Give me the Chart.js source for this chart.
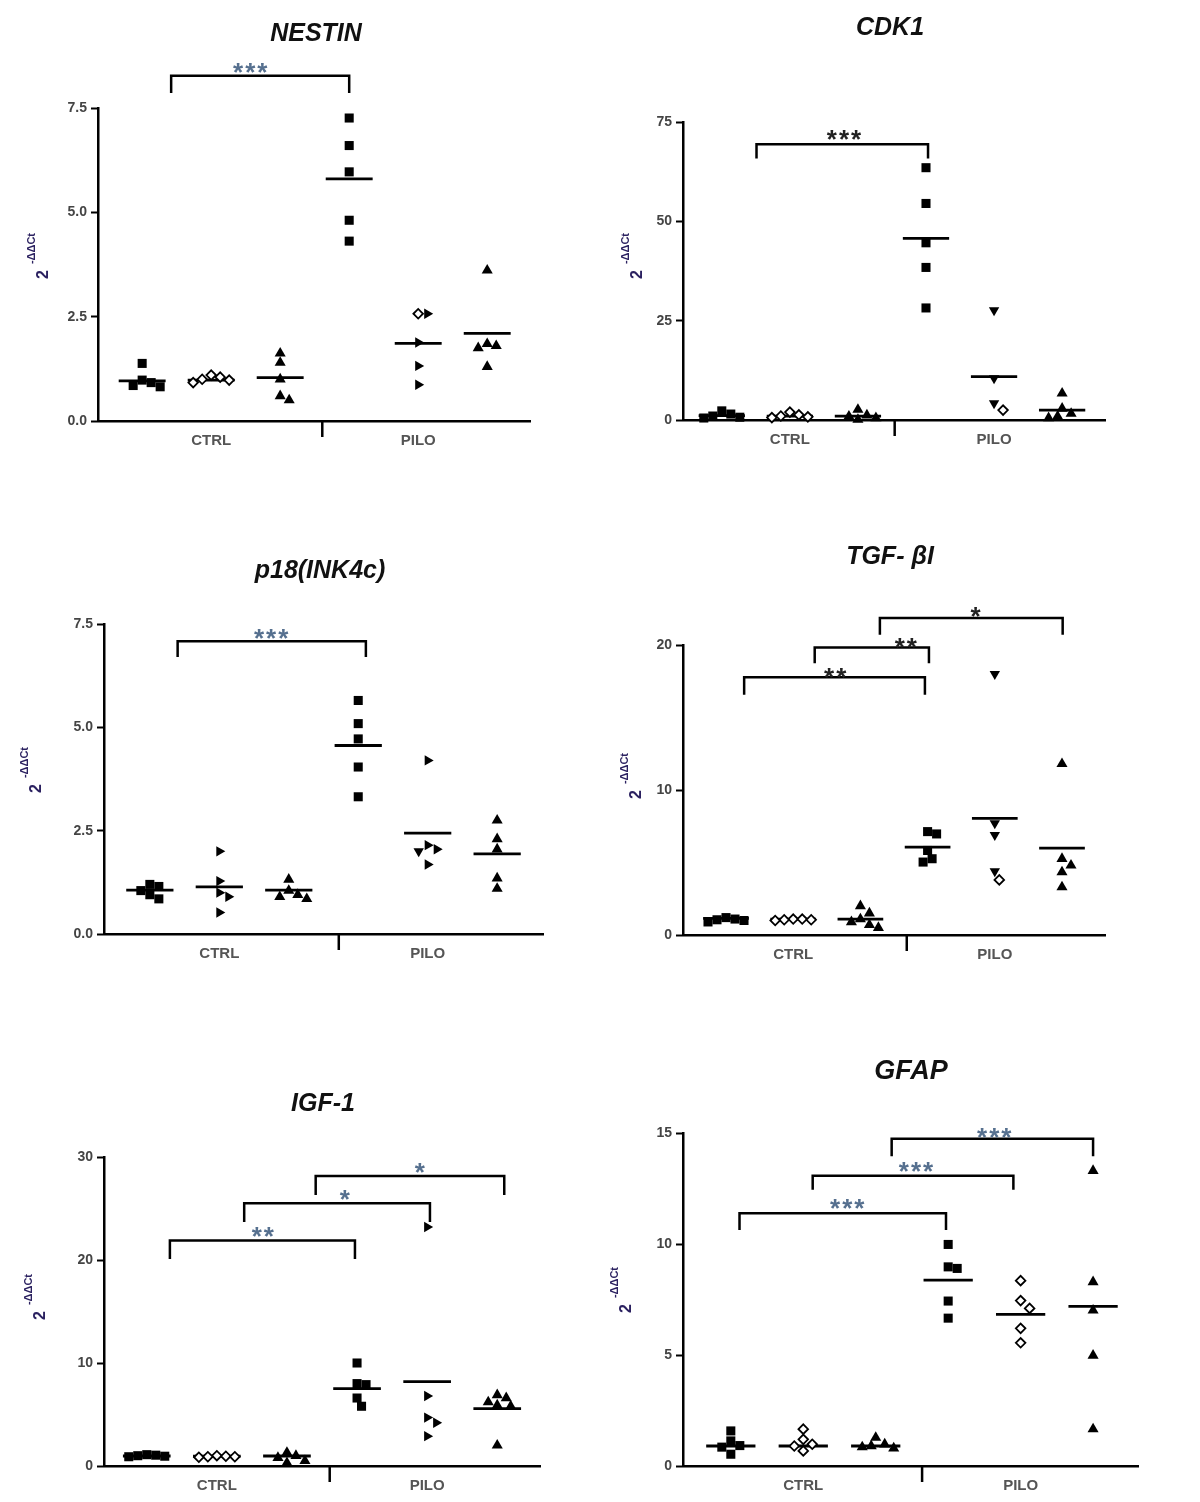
<!DOCTYPE html>
<html><head><meta charset="utf-8">
<script src="https://cdn.jsdelivr.net/npm/chart.js@4.4.1/dist/chart.umd.min.js"></script>
<style>
html,body{margin:0;padding:0;background:#fff;width:1200px;height:1502px;overflow:hidden;position:relative;}
canvas{position:absolute;}
</style></head><body>
<script>
// ---------- DATA ----------
const categories = ['CTRL', 'PILO'];
const columns = [1, 2, 3, 4, 5, 6];          // 3 CTRL columns, 3 PILO columns

const nestinTicks = [0, 2.5, 5, 7.5];
const nestinValues = [[1.38,0.98,0.92,0.85,0.82],[1.1,1.05,1.0,0.98,0.92],[1.62,1.4,1.0,0.6,0.5],[7.26,6.6,5.97,4.81,4.31],[2.57,2.57,1.88,1.32,0.87],[3.61,1.85,1.8,1.75,1.3]];
const nestinMeans = [0.96,0.98,1.04,5.8,1.86,2.1];
const nestinStars = ['***'];

const cdk1Ticks = [0, 25, 50, 75];
const cdk1Values = [[2.3,1.5,1.0,0.7,0.5],[2.0,1.3,1.0,0.8,0.6],[2.6,1.2,0.9,0.5,0.1],[63.5,54.5,44.6,38.4,28.2],[27.6,10.5,4.2,2.5],[6.7,2.9,1.6,0.9,0.5]];
const cdk1Means = [1.1,1.0,1.0,45.7,10.9,2.5];
const cdk1Stars = ['***'];

const p18Ticks = [0, 2.5, 5, 7.5];
const p18Values = [[1.2,1.15,1.05,0.95,0.85],[2.0,1.28,1.0,0.9,0.52],[1.32,1.05,0.95,0.9,0.85],[5.65,5.09,4.72,4.04,3.32],[4.2,2.15,2.05,2.0,1.68],[2.75,2.3,2.05,1.35,1.1]];
const p18Means = [1.06,1.14,1.06,4.56,2.44,1.94];
const p18Stars = ['***'];

const tgfTicks = [0, 10, 20];
const tgfValues = [[1.2,1.1,1.05,1.0,0.9],[1.1,1.1,1.05,1.05,1.0],[2.0,1.5,1.1,0.9,0.7,0.5],[7.13,6.97,5.83,5.26,5.03],[18.0,7.7,6.9,4.4,3.8],[11.8,5.26,4.8,4.34,3.3]];
const tgfMeans = [1.14,1.1,1.1,6.06,8.05,5.99];
const tgfStars = ['**','**','*'];

const igfTicks = [0, 10, 20, 30];
const igfValues = [[1.1,1.05,1.0,0.95,0.9],[1.0,0.95,0.9,0.9,0.85],[1.3,1.0,0.8,0.5,0.3],[10.0,8.0,7.9,6.6,5.8],[23.2,6.8,4.7,4.2,2.9],[6.9,6.6,6.2,5.9,5.8,2.0]];
const igfMeans = [0.97,0.95,0.97,7.52,8.2,5.58];
const igfStars = ['**','*','*'];

const gfapTicks = [0, 5, 10, 15];
const gfapValues = [[1.58,1.13,0.92,0.85,0.53],[1.66,1.2,0.98,0.9,0.68],[1.28,0.98,0.9,0.85,0.8],[9.98,8.97,8.9,7.43,6.66],[8.35,7.45,7.1,6.2,5.55],[13.3,8.29,7.01,4.98,1.66]];
const gfapMeans = [0.9,0.9,0.9,8.37,6.83,7.19];
const gfapStars = ['***','***','***'];

// ---------- LAYOUT / STYLE ----------
// bracket: [fromX, toX, barY, legY, labelX, labelY] in axis units
const panels = [
  {title:'NESTIN', values:nestinValues, means:nestinMeans, ticks:nestinTicks, dec:1, area:[98,108,530,421], xr:[0.36,6.62], sep:3.61,
   titlePos:[316,34], titleFont:'italic bold 25px "Liberation Sans"', yTitle:[42,256],
   brackets:[[1.42,4.0,8.27,7.86,2.58,8.5]], stars:nestinStars, starColor:'#56708f',
   g2:'diamond', g5:['diamond','triRight','triRight','triRight','triRight']},
  {title:'CDK1', values:cdk1Values, means:cdk1Means, ticks:cdk1Ticks, dec:0, area:[683,122,1105,420], xr:[0.43,6.63], sep:3.54,
   titlePos:[890,28], titleFont:'italic bold 25px "Liberation Sans"', yTitle:[636,256],
   brackets:[[1.51,4.03,69.4,65.8,2.81,72.3]], stars:cdk1Stars, starColor:'#222',
   g2:'diamond', g5:['triDown','triDown','triDown','diamond']},
  {title:'p18(INK4c)', values:p18Values, means:p18Means, ticks:p18Ticks, dec:1, area:[104,624,543,934], xr:[0.34,6.66], sep:3.72,
   titlePos:[320,571], titleFont:'italic bold 25px "Liberation Sans"', yTitle:[35,770],
   brackets:[[1.4,4.11,7.08,6.7,2.76,7.3]], stars:p18Stars, starColor:'#56708f',
   g2:'triRight', g5:['triRight','triRight','triRight','triDown','triRight']},
  {title:'TGF- \u03B2I', values:tgfValues, means:tgfMeans, ticks:tgfTicks, dec:0, area:[683,645,1105,935], xr:[0.36,6.64], sep:3.69,
   titlePos:[890,557], titleFont:'italic bold 25px "Liberation Sans"', yTitle:[635,776],
   brackets:[[1.27,3.96,17.78,16.57,2.64,18.2],[2.32,4.02,19.82,18.74,3.69,20.3],[3.29,6.01,21.87,20.7,4.73,22.4]], stars:tgfStars, starColor:'#222',
   g2:'diamond', g5:['triDown','triDown','triDown','triDown','diamond']},
  {title:'IGF-1', values:igfValues, means:igfMeans, ticks:igfTicks, dec:0, area:[104,1157,540,1466], xr:[0.39,6.61], sep:3.61,
   titlePos:[323,1104], titleFont:'italic bold 25px "Liberation Sans"', yTitle:[39,1297],
   brackets:[[1.33,3.97,21.9,20.1,2.67,22.9],[2.39,5.04,25.5,23.7,3.84,26.5],[3.41,6.1,28.15,26.3,4.91,29.1]], stars:igfStars, starColor:'#56708f',
   g2:'diamond', g5:'triRight'},
  {title:'GFAP', values:gfapValues, means:gfapMeans, ticks:gfapTicks, dec:0, area:[683,1133,1138,1466], xr:[0.34,6.62], sep:3.64,
   titlePos:[911,1072], titleFont:'italic bold 27px "Liberation Sans"', yTitle:[625,1290],
   brackets:[[1.12,3.97,11.38,10.63,2.62,11.87],[2.13,4.9,13.07,12.44,3.57,13.54],[3.22,6.0,14.74,13.95,4.65,15.1]], stars:gfapStars, starColor:'#56708f',
   g2:'diamond', g5:'diamond'}
];

const markerDefs = {
  square:  {style:'rect', rot:0, bg:'#000', r:6.4, bw:0},
  diamond: {style:'rectRot', rot:0, bg:'#fff', r:4.8, bw:1.8},
  tri:     {style:'triangle', rot:0, bg:'#000', r:6.4, bw:0},
  triRight:{style:'triangle', rot:90, bg:'#000', r:6.0, bw:0},
  triDown: {style:'triangle', rot:180, bg:'#000', r:6.0, bw:0}
};

Chart.defaults.font.family = '"Liberation Sans", Arial, sans-serif';

function swarm(vals, gx, pxX, pxY, d) {
  const placed = [];
  const res = new Array(vals.length);
  const order = vals.map((v, i) => i).sort((a, b) => vals[b] - vals[a]);
  const cands = [0];
  for (let j = 1; j < 14; j++) cands.push(j * d / 2, -j * d / 2);
  order.forEach(i => {
    const yp = vals[i] * pxY;
    let off = 0;
    for (const c of cands) {
      if (placed.every(q => Math.hypot(q.x - c, q.y - yp) >= d)) { off = c; break; }
    }
    placed.push({x: off, y: yp});
    res[i] = {x: gx + off / pxX, y: vals[i]};
  });
  return res;
}

const padL = 85, padT = 115, padR = 25, padB = 55;

panels.forEach(p => {
  const [L, T, R, B] = p.area;
  const W = R - L + padL + padR, H = B - T + padT + padB;
  const ox = L - padL, oy = T - padT;
  const cv = document.createElement('canvas');
  cv.width = W; cv.height = H;
  cv.style.left = ox + 'px'; cv.style.top = oy + 'px';
  cv.style.width = W + 'px'; cv.style.height = H + 'px';
  document.body.appendChild(cv);

  const ymax = p.ticks[p.ticks.length - 1];
  const pxX = (R - L) / (p.xr[1] - p.xr[0]);
  const pxY = (B - T) / ymax;
  const catPos = [ (columns[0]+columns[1]+columns[2])/3, (columns[3]+columns[4]+columns[5])/3 ];

  const datasets = [];
  p.values.forEach((vals, gi) => {
    let sty = ['square', p.g2, 'tri', 'square', p.g5, 'tri'][gi];
    const names = vals.map((v, k) => Array.isArray(sty) ? sty[k] : sty);
    const defs = names.map(n => markerDefs[n]);
    datasets.push({
      data: swarm(vals, columns[gi], pxX, pxY, 9),
      showLine: false,
      pointStyle: defs.map(d => d.style),
      pointRotation: defs.map(d => d.rot),
      pointBackgroundColor: defs.map(d => d.bg),
      pointRadius: defs.map(d => d.r),
      pointBorderWidth: defs.map(d => d.bw),
      pointBorderColor: '#000',
      clip: false
    });
  });
  p.means.forEach((m, gi) => {
    datasets.push({
      data: [{x: columns[gi] - 0.34, y: m}, {x: columns[gi] + 0.34, y: m}],
      showLine: true, borderColor: '#000', borderWidth: 2.8, pointRadius: 0, clip: false
    });
  });

  const overlay = {
    id: 'overlay',
    afterDraw(chart) {
      const ctx = chart.ctx, xs = chart.scales.x, ys = chart.scales.y, ca = chart.chartArea;
      ctx.save();
      ctx.strokeStyle = '#000'; ctx.lineWidth = 2.5; ctx.lineCap = 'butt';
      // group separator tick
      const sx = xs.getPixelForValue(p.sep);
      ctx.beginPath(); ctx.moveTo(sx, ca.bottom); ctx.lineTo(sx, ca.bottom + 16); ctx.stroke();
      // significance brackets
      ctx.font = 'bold 26px "Liberation Sans"';
      try { ctx.letterSpacing = '2px'; } catch (e) {}
      ctx.textAlign = 'center'; ctx.textBaseline = 'alphabetic';
      p.brackets.forEach((b, i) => {
        const x1 = xs.getPixelForValue(b[0]), x2 = xs.getPixelForValue(b[1]);
        const yb = ys.getPixelForValue(b[2]), yl = ys.getPixelForValue(b[3]);
        ctx.beginPath(); ctx.moveTo(x1, yl); ctx.lineTo(x1, yb); ctx.lineTo(x2, yb); ctx.lineTo(x2, yl); ctx.stroke();
        ctx.fillStyle = p.starColor;
        ctx.fillText(p.stars[i], xs.getPixelForValue(b[4]), ys.getPixelForValue(b[5]) + 15);
      });
      try { ctx.letterSpacing = '0px'; } catch (e) {}
      // title
      ctx.fillStyle = '#111';
      ctx.font = p.titleFont;
      ctx.textBaseline = 'middle';
      ctx.fillText(p.title, p.titlePos[0] - ox, p.titlePos[1] - oy);
      // y-axis title 2^-ΔΔCt
      ctx.translate(p.yTitle[0] - ox, p.yTitle[1] - oy);
      ctx.rotate(-Math.PI / 2);
      ctx.fillStyle = '#2b2160';
      ctx.font = 'bold 16px "Liberation Sans"';
      const w2 = ctx.measureText('2').width;
      ctx.font = 'bold 11px "Liberation Sans"';
      const sup = '-\u0394\u0394Ct';
      const ws = ctx.measureText(sup).width;
      const gap = 6;
      const start = -(w2 + gap + ws) / 2;
      ctx.textAlign = 'left'; ctx.textBaseline = 'alphabetic';
      ctx.font = 'bold 16px "Liberation Sans"';
      ctx.fillText('2', start, 6);
      ctx.font = 'bold 11px "Liberation Sans"';
      ctx.fillText(sup, start + w2 + gap, -7);
      ctx.restore();
    }
  };

  new Chart(cv, {
    type: 'scatter',
    data: {datasets},
    options: {
      responsive: false, animation: false, devicePixelRatio: 1, events: [],
      layout: {autoPadding: false, padding: {left: 0, top: padT, right: padR, bottom: 0}},
      plugins: {legend: {display: false}, tooltip: {enabled: false}},
      scales: {
        x: {
          type: 'linear', min: p.xr[0], max: p.xr[1],
          afterFit: s => { s.height = padB; },
          afterBuildTicks: s => { s.ticks = catPos.map(v => ({value: v})); },
          ticks: {callback: v => categories[catPos.indexOf(v)], font: {size: 15, weight: 'bold'}, color: '#555', padding: 11, autoSkip: false, maxRotation: 0},
          grid: {display: true, drawOnChartArea: false, drawTicks: false, tickLength: 0},
          border: {color: '#000', width: 2.5}
        },
        y: {
          type: 'linear', min: 0, max: ymax,
          afterFit: s => { s.width = padL; },
          afterBuildTicks: s => { s.ticks = p.ticks.map(v => ({value: v})); },
          ticks: {callback: v => Number(v).toFixed(p.dec), font: {size: 14, weight: 'bold'}, color: '#444', padding: 4},
          grid: {drawOnChartArea: false, tickLength: 7, tickWidth: 2, tickColor: '#000'},
          border: {color: '#000', width: 2.5}
        }
      }
    },
    plugins: [overlay]
  });
});
</script>
</body></html>
